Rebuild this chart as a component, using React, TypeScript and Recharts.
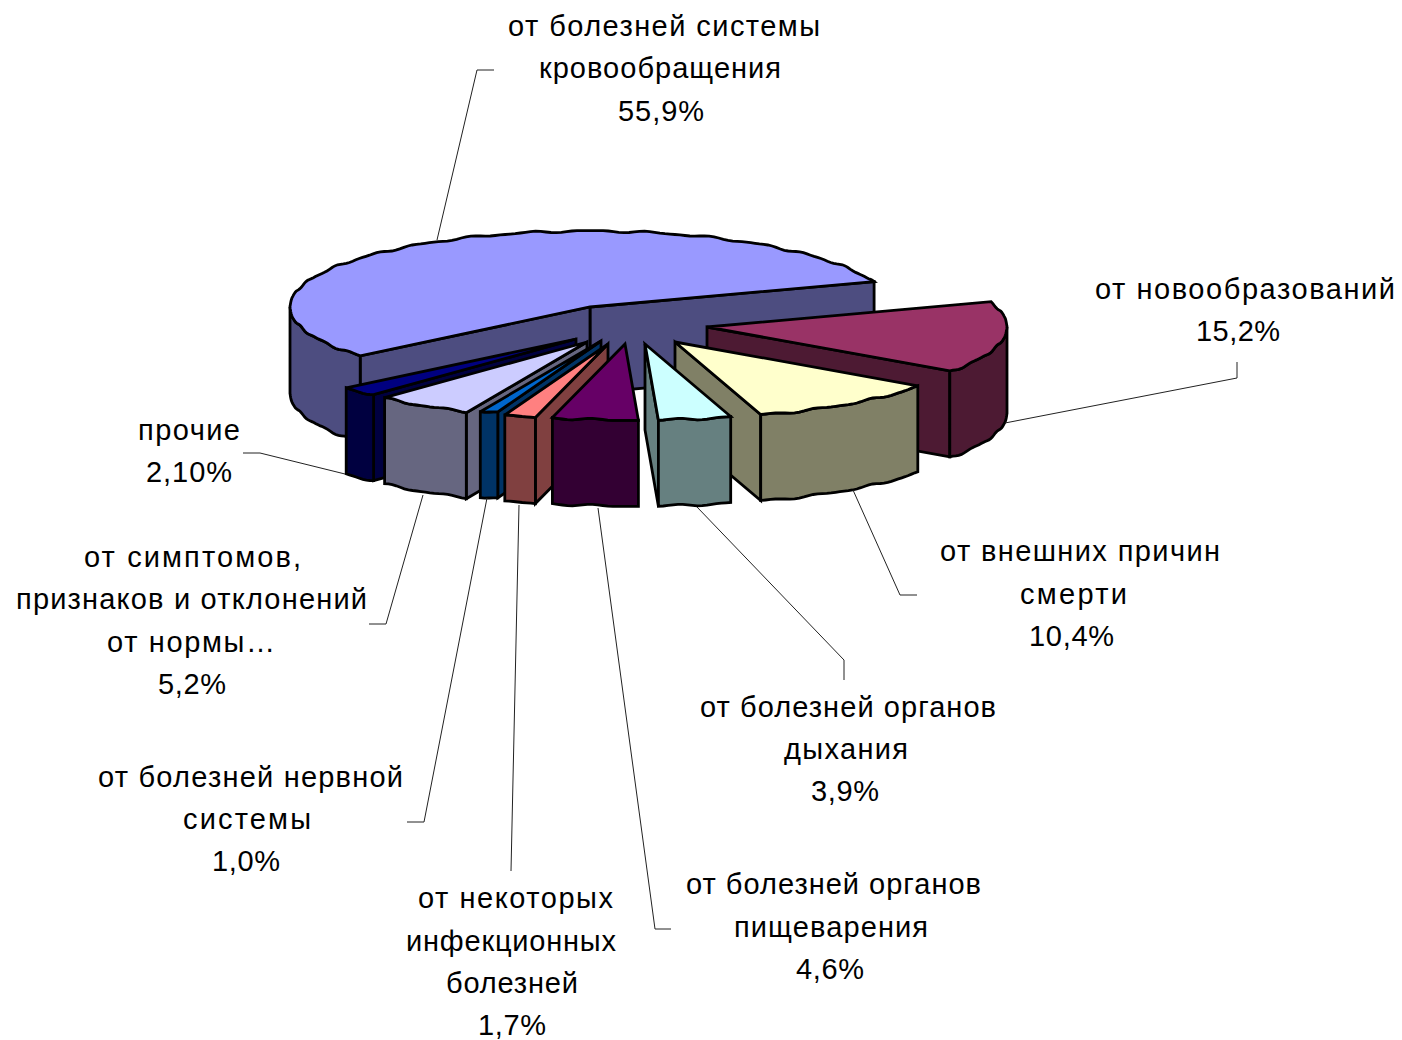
import { PieChart, Pie } from "recharts";

// clockwise from the lower-left edge of the largest slice
const categories = [
  "от болезней системы кровообращения",
  "от новообразований",
  "от внешних причин смерти",
  "от болезней органов дыхания",
  "от болезней органов пищеварения",
  "от некоторых инфекционных болезней",
  "от болезней нервной системы",
  "от симптомов, признаков и отклонений от нормы…",
  "прочие",
];
const shares = [55.9, 15.2, 10.4, 3.9, 4.6, 1.7, 1.0, 5.2, 2.1];
const shareLabels = ["55,9%", "15,2%", "10,4%", "3,9%", "4,6%", "1,7%", "1,0%", "5,2%", "2,10%"];
const labelLines = [
  ["от болезней системы", "кровообращения"],
  ["от новообразований"],
  ["от внешних причин", "смерти"],
  ["от болезней органов", "дыхания"],
  ["от болезней органов", "пищеварения"],
  ["от некоторых", "инфекционных", "болезней"],
  ["от болезней нервной", "системы"],
  ["от симптомов,", "признаков и отклонений", "от нормы…"],
  ["прочие"],
];

const topColors = ["#9999ff", "#993366", "#ffffcc", "#ccffff", "#660066", "#ff8080", "#0066cc", "#ccccff", "#000080"];
const sideColors = ["#4d4d80", "#4d1a33", "#808066", "#668080", "#330033", "#804040", "#003366", "#666680", "#000040"];

// how far each slice is pulled out of the pie
const explode = [
  [0, 0],
  [117, 20],
  [85, 35],
  [55, 37],
  [35, 37],
  [18, 37],
  [11, 34],
  [-3, 35],
  [-14, 32],
];

// text rows per label: [left, right, baseline]
const labelRows = [
  [[508, 820, 36], [539, 781, 78], [618, 704, 121]],
  [[1095, 1395, 299], [1196, 1280, 341]],
  [[940, 1220, 561], [1020, 1127, 604], [1029, 1114, 646]],
  [[700, 996, 717], [784, 908, 759], [811, 879, 801]],
  [[686, 981, 894], [734, 928, 937], [796, 864, 979]],
  [[418, 613, 908], [406, 616, 951], [446, 578, 993], [478, 546, 1035]],
  [[98, 403, 787], [183, 311, 829], [212, 280, 871]],
  [[84, 301, 567], [16, 367, 609], [107, 275, 652], [158, 226, 694]],
  [[138, 240, 440], [146, 232, 482]],
];
const leaders = [
  "437,240 477,70 494,70",
  "1005,423 1237,378 1237,362",
  "853,490 900,595 917,595",
  "697,507 844,660 844,680",
  "598,508 655,929 671,929",
  "519,505 511,871",
  "487,498 424,822 407,822",
  "423,495 386,624 369,624",
  "345,474 260,453 243,453",
];

const TILT = 0.2533;
const DEPTH = 86;
const START_ANGLE = 220;
const backGroup = [0, 1, 2, 3];
const frontGroup = [8, 7, 6, 5, 4];

const chartData = categories.map((name, i) => ({ name, value: shares[i] }));
// counter-clockwise pass starts on "прочие" so the left slices paint left to right
const ccwData = [...chartData].reverse();

const rad = (d: number) => (d * Math.PI) / 180;

function makeShape(group: number[]) {
  return function Wedge(props: any) {
    const i = categories.indexOf(props.name ?? props.payload?.name);
    if (!group.includes(i)) return null;
    let a = Math.min(props.startAngle, props.endAngle);
    let b = Math.max(props.startAngle, props.endAngle);
    if (a >= 180) {
      a -= 360;
      b -= 360;
    }
    const rx = props.outerRadius;
    const ry = rx * TILT;
    const ax = props.cx + explode[i][0];
    const ay = props.cy + explode[i][1];
    // slight ripple along the rim, the source picture has a rough edge
    const rim = (t: number, drop = 0) => {
      const wave = 0.8 * Math.sin(rad(t * 31)) + 0.4 * Math.sin(rad(t * 53));
      return `${(ax + rx * Math.cos(rad(t))).toFixed(1)},${(ay - ry * Math.sin(rad(t)) + drop + wave).toFixed(1)}`;
    };
    const sweep = (from: number, to: number, drop = 0) => {
      const out: string[] = [];
      const steps = Math.max(2, Math.ceil(Math.abs(to - from)));
      for (let s = 0; s <= steps; s++) out.push(rim(from + ((to - from) * s) / steps, drop));
      return out;
    };
    const lo = b > 180 ? Math.max(a, 180) : a;
    const hi = b > 180 ? b : Math.min(b, 0);
    const line = { stroke: "#000", strokeWidth: 2.8, strokeLinejoin: "miter" as const, strokeMiterlimit: 3 };
    const cut = (t: number) => (
      <polygon
        points={`${ax},${ay} ${rim(t)} ${rim(t, DEPTH)} ${ax},${ay + DEPTH}`}
        fill={sideColors[i]}
        {...line}
      />
    );
    return (
      <g>
        {Math.cos(rad(a)) > 0 && cut(a)}
        {Math.cos(rad(b)) < 0 && cut(b)}
        {hi > lo && (
          <polygon
            points={[...sweep(lo, hi), ...sweep(hi, lo, DEPTH)].join(" ")}
            fill={sideColors[i]}
            {...line}
          />
        )}
        <polygon points={[`${ax},${ay}`, ...sweep(a, b)].join(" ")} fill={topColors[i]} {...line} />
      </g>
    );
  };
}

function renderLabel(props: any) {
  const i = categories.indexOf(props.name ?? props.payload?.name);
  const texts = [...labelLines[i], shareLabels[i]];
  return (
    <g key={i}>
      <polyline points={leaders[i]} fill="none" stroke="#222" strokeWidth={1} />
      {texts.map((t, n) => {
        const [x0, x1, y] = labelRows[i][n];
        return (
          <text
            key={n}
            x={x0}
            y={y}
            textLength={x1 - x0}
            lengthAdjust="spacing"
            fontFamily="'Liberation Sans', Arial, sans-serif"
            fontSize={29}
            fill="#000"
          >
            {t}
          </text>
        );
      })}
    </g>
  );
}

export default function App() {
  return (
    <div style={{ position: "absolute", left: 0, top: 0, width: 1402, height: 1040, background: "#fff" }}>
      <PieChart width={1402} height={1040} margin={{ top: 0, right: 0, bottom: 0, left: 0 }}>
        <Pie
          data={chartData}
          dataKey="value"
          nameKey="name"
          cx={590}
          cy={307}
          innerRadius={0}
          outerRadius={300}
          startAngle={START_ANGLE}
          endAngle={START_ANGLE - 360}
          paddingAngle={0}
          stroke="none"
          shape={makeShape(backGroup)}
          label={renderLabel}
          labelLine={false}
          isAnimationActive={false}
        />
        <Pie
          data={ccwData}
          dataKey="value"
          nameKey="name"
          cx={590}
          cy={307}
          innerRadius={0}
          outerRadius={300}
          startAngle={START_ANGLE}
          endAngle={START_ANGLE + 360}
          paddingAngle={0}
          stroke="none"
          shape={makeShape(frontGroup)}
          label={false}
          labelLine={false}
          isAnimationActive={false}
        />
      </PieChart>
    </div>
  );
}
